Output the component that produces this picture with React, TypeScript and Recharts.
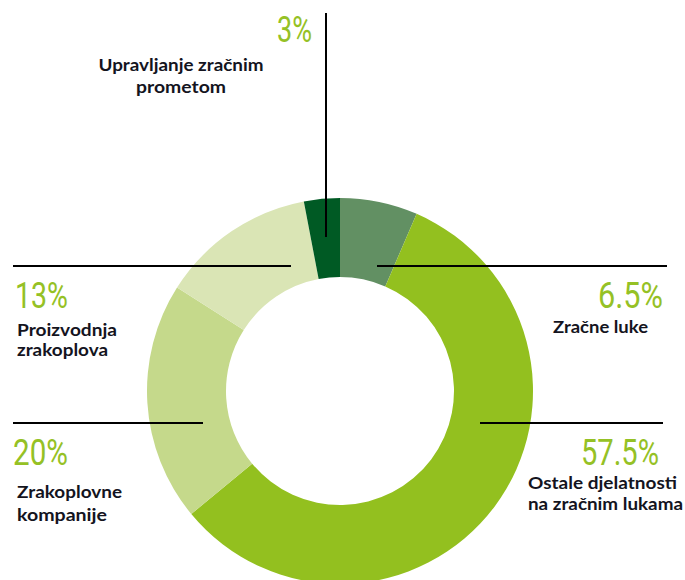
import React from "react";
import { PieChart, Pie, Cell } from "recharts";

// ---- data ----
const categories = [
  "Zračne luke",
  "Ostale djelatnosti na zračnim lukama",
  "Zrakoplovne kompanije",
  "Proizvodnja zrakoplova",
  "Upravljanje zračnim prometom",
];
const values = [6.5, 57.5, 20, 13, 3];
const percentLabels = ["6.5%", "57.5%", "20%", "13%", "3%"];
const labelLines = [
  ["Zračne luke"],
  ["Ostale djelatnosti", "na zračnim lukama"],
  ["Zrakoplovne", "kompanije"],
  ["Proizvodnja", "zrakoplova"],
  ["Upravljanje zračnim", "prometom"],
];

// ---- styles ----
const colors = ["#629063", "#93c01f", "#c5d98b", "#dae5b5", "#005a24"];
const pctColor = "#95c125";
const textColor = "#14141e";

// annotation layout (per category index)
type Ann = {
  line: [number, number, number, number];
  pct: { x: number; y: number; anchor: "start" | "end" | "middle"; w: number };
  lbl: { x: number; y: number; anchor: "start" | "end" | "middle"; dy: number; w: number[] };
};
const annotations: Ann[] = [
  { line: [377, 266, 667, 266], pct: { x: 663, y: 308, anchor: "end", w: 65 }, lbl: { x: 553, y: 333, anchor: "start", dy: 22, w: [95] } },
  { line: [480, 423, 663, 423], pct: { x: 659, y: 465, anchor: "end", w: 78 }, lbl: { x: 528, y: 489, anchor: "start", dy: 21, w: [149, 155] } },
  { line: [13, 423, 203, 423], pct: { x: 13, y: 465, anchor: "start", w: 55 }, lbl: { x: 17, y: 498, anchor: "start", dy: 23, w: [105, 90] } },
  { line: [13, 266, 291, 266], pct: { x: 15, y: 308, anchor: "start", w: 53 }, lbl: { x: 17, y: 336, anchor: "start", dy: 20, w: [100, 91] } },
  { line: [326, 13, 326, 237], pct: { x: 312, y: 42, anchor: "end", w: 35 }, lbl: { x: 181, y: 71, anchor: "middle", dy: 22, w: [165, 90] } },
];

const data = categories.map((name, i) => ({ name, value: values[i] }));

export default function App() {
  return (
    <div style={{ position: "absolute", left: 0, top: 0, width: 685, height: 580, background: "#fff" }}>
      <PieChart width={685} height={580} margin={{ top: 0, right: 0, bottom: 0, left: 0 }}>
        <Pie
          data={data}
          dataKey="value"
          nameKey="name"
          cx={340}
          cy={391}
          innerRadius={114}
          outerRadius={193}
          startAngle={90}
          endAngle={-270}
          stroke="none"
          isAnimationActive={false}
        >
          {data.map((_, i) => (
            <Cell key={i} fill={colors[i]} />
          ))}
        </Pie>
      </PieChart>
      <svg
        width={685}
        height={580}
        style={{ position: "absolute", left: 0, top: 0, pointerEvents: "none" }}
      >
        {annotations.map((a, i) => (
          <g key={i}>
            <line x1={a.line[0]} y1={a.line[1]} x2={a.line[2]} y2={a.line[3]} stroke="#000" strokeWidth={2} />
            <text
              x={a.pct.x}
              y={a.pct.y}
              textAnchor={a.pct.anchor}
              fill={pctColor}
              fontFamily="Roboto, 'DejaVu Sans Condensed', sans-serif"
              fontSize={36}
              textLength={a.pct.w}
              lengthAdjust="spacingAndGlyphs"
            >
              {percentLabels[i]}
            </text>
            {labelLines[i].map((t, j) => (
              <text
                key={j}
                x={a.lbl.x}
                y={a.lbl.y + j * a.lbl.dy}
                textAnchor={a.lbl.anchor}
                fill={textColor}
                fontFamily="Lato, 'Open Sans', sans-serif"
                fontWeight={700}
                fontSize={17}
                textLength={a.lbl.w[j]}
                lengthAdjust="spacingAndGlyphs"
              >
                {t}
              </text>
            ))}
          </g>
        ))}
      </svg>
    </div>
  );
}
